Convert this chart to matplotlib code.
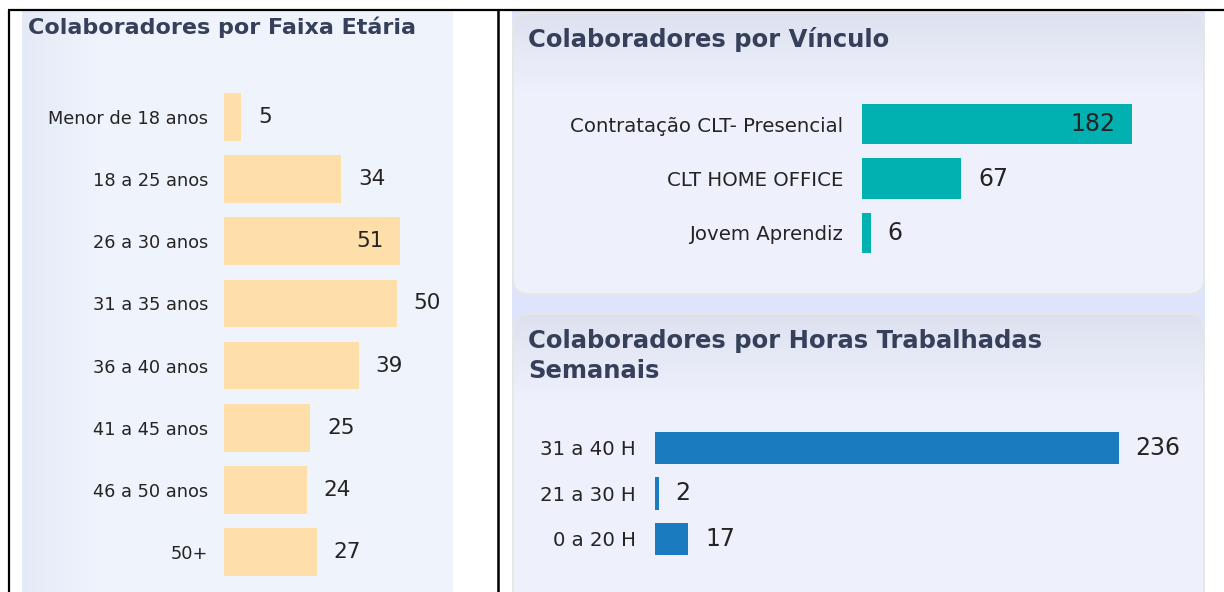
import matplotlib
matplotlib.use("Agg")
import matplotlib.pyplot as plt
import numpy as np
from matplotlib.patches import FancyBboxPatch, Rectangle

# dados
faixa_cat = ["Menor de 18 anos", "18 a 25 anos", "26 a 30 anos", "31 a 35 anos",
             "36 a 40 anos", "41 a 45 anos", "46 a 50 anos", "50+"]
faixa_val = [5, 34, 51, 50, 39, 25, 24, 27]

vinculo_cat = ["Contratação CLT- Presencial", "CLT HOME OFFICE", "Jovem Aprendiz"]
vinculo_val = [182, 67, 6]

horas_cat = ["31 a 40 H", "21 a 30 H", "0 a 20 H"]
horas_val = [236, 2, 17]

W, H = 1224, 592
fig = plt.figure(figsize=(W / 100, H / 100), dpi=100)
fig.patch.set_facecolor("white")

def px_axes(left, top, right, bottom, **kw):
    return fig.add_axes([left / W, 1 - bottom / H, (right - left) / W, (bottom - top) / H], **kw)

# fundo (coordenadas em pixels)
bg = px_axes(0, 0, W, H)
bg.set_xlim(0, W)
bg.set_ylim(H, 0)
bg.axis("off")
bg.set_zorder(0)

# painel esquerdo com leve gradiente horizontal
grad = np.linspace(0, 1, 200)
c0 = np.array([0.895, 0.915, 0.965])
c1 = np.array([0.935, 0.953, 0.992])
t = np.clip(grad * 6, 0, 1)[None, :, None]
img = c0 * (1 - t) + c1 * t
bg.imshow(img, extent=(22, 453, 592, 11), aspect="auto", zorder=1)

# area direita
bg.add_patch(Rectangle((512, 11), 693, 590, facecolor="#dde4fb", edgecolor="none", zorder=1))

def painel(y0, y1):
    p = FancyBboxPatch((513, y0), 691, y1 - y0, boxstyle="round,pad=0,rounding_size=16",
                       facecolor="none", edgecolor="#e9e7df", lw=1.2, zorder=3)
    bg.add_patch(p)
    gv = np.linspace(0, 1, 200)
    top = np.array([0.87, 0.885, 0.94])
    mid = np.array([0.935, 0.945, 0.99])
    tt = np.clip(gv * 3.5, 0, 1)[:, None, None]
    im = top * (1 - tt) + mid * tt
    im = np.repeat(im, 2, axis=1)
    h = bg.imshow(im, extent=(513, 1204, y1, y0), aspect="auto", zorder=2)
    h.set_clip_path(p)

painel(13, 294)
painel(314, 620)

# linhas pretas da tabela
bg.plot([8, W], [10, 10], color="black", lw=1.6, zorder=5, solid_capstyle="butt")
bg.plot([9, 9], [10, H], color="black", lw=1.6, zorder=5, solid_capstyle="butt")
bg.plot([497.5, 497.5], [10, H], color="black", lw=1.8, zorder=5, solid_capstyle="butt")

title_color = "#36405a"
bg.text(28, 27, "Colaboradores por Faixa Etária", fontsize=16, fontweight="bold",
        color=title_color, va="center", ha="left", zorder=6)
bg.text(528, 40, "Colaboradores por Vínculo", fontsize=17.5, fontweight="bold",
        color=title_color, va="center", ha="left", zorder=6)
bg.text(528, 356, "Colaboradores por Horas Trabalhadas\nSemanais", fontsize=17.5,
        fontweight="bold", color=title_color, va="center", ha="left",
        linespacing=1.32, zorder=6)

def barras(cats, vals, color, left, right, top, bottom, scale, bh, lab_fs, val_fs, pad,
           dentro=None):
    ax = px_axes(left, top, right, bottom)
    ax.set_zorder(2)
    ax.patch.set_alpha(0)
    y = np.arange(len(cats))
    ax.barh(y, vals, height=bh, color=color)
    ax.set_xlim(0, (right - left) / scale)
    ax.set_ylim(len(cats) - 0.5, -0.5)
    ax.set_yticks(y)
    ax.set_yticklabels(cats, fontsize=lab_fs, color="#252423")
    ax.tick_params(axis="y", length=0, pad=pad)
    ax.set_xticks([])
    for s in ax.spines.values():
        s.set_visible(False)
    for yi, v in zip(y, vals):
        if v == dentro:
            ax.annotate(str(v), (v, yi), xytext=(-12, 0), textcoords="offset points",
                        ha="right", va="center", fontsize=val_fs, color="#252423")
        else:
            ax.annotate(str(v), (v, yi), xytext=(12, 0), textcoords="offset points",
                        ha="left", va="center", fontsize=val_fs, color="#252423")
    return ax

barras(faixa_cat, faixa_val, "#ffdfa9", 224, 453, 117 - 31.07, 552 + 31.07,
       3.45, 0.77, 12.8, 15.5, 11.5, dentro=51)
barras(vinculo_cat, vinculo_val, "#01b0b0", 862, 1190, 124 - 27.25, 233 + 27.25,
       1.4835, 0.75, 14.2, 17, 13.5, dentro=182)
barras(horas_cat, horas_val, "#1b7bbf", 655, 1195, 448 - 22.75, 539 + 22.75,
       1.966, 0.725, 14.2, 17, 13.5)

fig.savefig("out.png", dpi=100, facecolor="white")
